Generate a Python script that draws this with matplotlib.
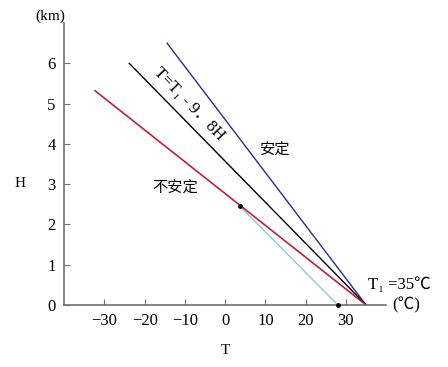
import numpy as np
from matplotlib import pyplot as plt

plt.rcParams['font.family'] = ['Liberation Serif', 'Noto Sans CJK SC', 'DejaVu Sans']

# lines meet at T1 = 35 C, H = 0
t_surface = 35
# stable line (blue)
stable_T = [35, -14.4]
stable_H = [0, 6.5]
# dry adiabatic T = T1 - 9.8H (black)
dry_T = [35, -23.8]
dry_H = [0, 6.0]
# unstable line (red)
unstable_T = [35, -32.3]
unstable_H = [0, 5.32]
# light blue line with its two dots
parcel_T = [3.7, 28.0]
parcel_H = [2.45, 0]

x_ticks = [-30, -20, -10, 0, 10, 20, 30]
y_ticks = [0, 1, 2, 3, 4, 5, 6]

fig = plt.figure(figsize=(4.48, 3.67), dpi=100)
ax = fig.add_axes([0.143, 0.169, 0.719, 0.768])

ax.plot(parcel_T, parcel_H, color='#8ec9d6', lw=1)
ax.plot(stable_T, stable_H, color='#2a2a9c', lw=1)
ax.plot(dry_T, dry_H, color='black', lw=1)
ax.plot(unstable_T, unstable_H, color='#c21f3a', lw=1.2)
ax.scatter(parcel_T, parcel_H, s=6, color='black', zorder=5, clip_on=False)

ax.set_xlim(-40, 40)
ax.set_ylim(0, 7)
ax.set_xticks(x_ticks)
ax.set_yticks(y_ticks)
for s in ['top', 'right']:
    ax.spines[s].set_visible(False)
for s in ['left', 'bottom']:
    ax.spines[s].set_color('#707070')
    ax.spines[s].set_linewidth(1.2)
ax.tick_params(direction='in', length=4, color='#707070', labelsize=12, pad=6)

ax.text(-9.0, 4.98, 'T=T\u2081 - 9\uff0e8H', rotation=-46, ha='center', va='center',
        fontsize=12, rotation_mode='anchor')
ax.text(12.5, 3.83, '安定', fontsize=11, ha='center', va='center')
ax.text(-12.5, 2.9, '不安定', fontsize=11, ha='center', va='center')
ax.text(35.5, 0.5, 'T\u2081 =35℃', fontsize=12, ha='left', va='center')
ax.text(41.5, 0, '(℃)', fontsize=12, ha='left', va='center', clip_on=False)

fig.text(0.112, 0.957, '(km)', fontsize=11, ha='center', va='center')
fig.text(0.045, 0.499, 'H', fontsize=11, ha='center', va='center')
fig.text(0.502, 0.046, 'T', fontsize=11, ha='center', va='center')

plt.savefig('out.png', dpi=100)
